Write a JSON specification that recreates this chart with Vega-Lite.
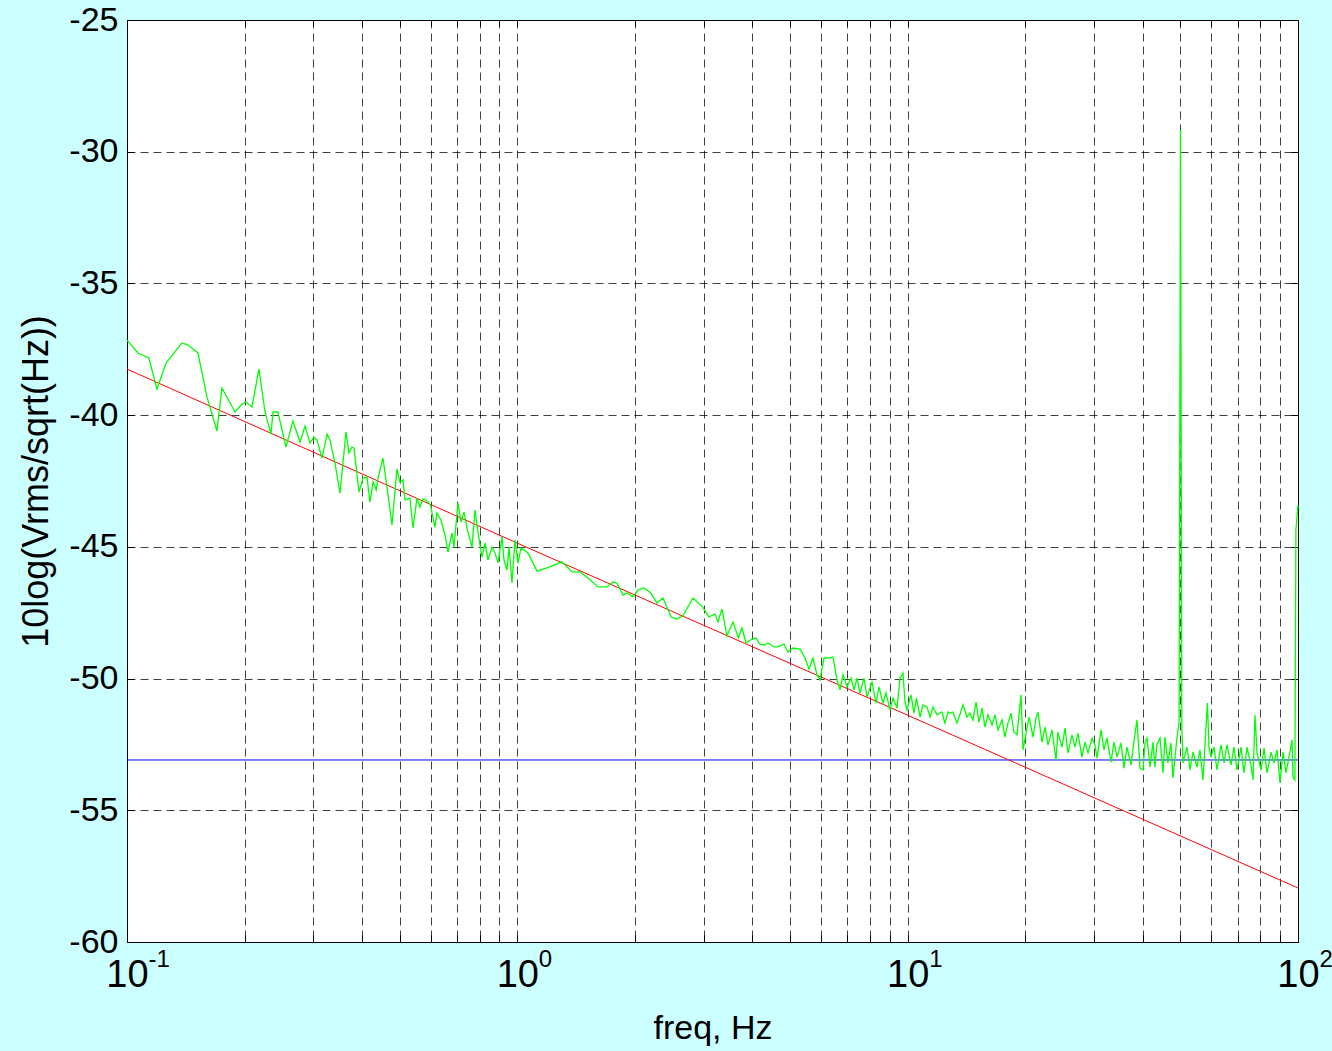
{
  "$schema": "https://vega.github.io/schema/vega-lite/v6.json",
  "width": 1171,
  "height": 922,
  "autosize": {"type": "none"},
  "padding": {"left": 127, "top": 20, "right": 34, "bottom": 109},
  "background": "#ccffff",
  "config": {
    "view": {"fill": "white", "stroke": "black", "strokeWidth": 1},
    "font": "Liberation Sans",
    "axis": {"labelFont": "Liberation Sans", "titleFont": "Liberation Sans", "labelColor": "#000", "titleColor": "#000", "tickColor": "#000", "titleFontWeight": "normal", "labelFlush": false, "labelOverlap": false}
  },
  "datasets": {
    "green": [
      {"f":0.1,"db":-37.15},{"f":0.1067,"db":-37.64},{"f":0.1138,"db":-37.83},{"f":0.1193,"db":-39.01},{"f":0.1259,"db":-38.02},{"f":0.1383,"db":-37.26},{"f":0.1433,"db":-37.34},{"f":0.152,"db":-37.64},{"f":0.1603,"db":-39.31},{"f":0.17,"db":-40.6},{"f":0.1751,"db":-38.97},{"f":0.1891,"db":-39.88},{"f":0.1971,"db":-39.58},{"f":0.2018,"db":-39.5},{"f":0.209,"db":-39.69},{"f":0.2178,"db":-38.25},{"f":0.2257,"db":-39.88},{"f":0.2338,"db":-40.72},{"f":0.2366,"db":-39.88},{"f":0.2436,"db":-39.88},{"f":0.2554,"db":-41.21},{"f":0.2662,"db":-40.22},{"f":0.2775,"db":-41.02},{"f":0.2858,"db":-40.41},{"f":0.2943,"db":-41.06},{"f":0.3012,"db":-40.83},{"f":0.3067,"db":-40.94},{"f":0.3159,"db":-41.63},{"f":0.3254,"db":-40.72},{"f":0.3311,"db":-40.94},{"f":0.3411,"db":-41.82},{"f":0.3513,"db":-42.96},{"f":0.364,"db":-40.64},{"f":0.3704,"db":-41.44},{"f":0.3771,"db":-41.21},{"f":0.3816,"db":-41.25},{"f":0.393,"db":-42.92},{"f":0.4024,"db":-42.39},{"f":0.4119,"db":-42.35},{"f":0.4193,"db":-43.3},{"f":0.4268,"db":-42.54},{"f":0.435,"db":-42.84},{"f":0.4396,"db":-42.39},{"f":0.4527,"db":-41.63},{"f":0.4635,"db":-42.73},{"f":0.4773,"db":-44.17},{"f":0.4917,"db":-42.04},{"f":0.5004,"db":-42.54},{"f":0.5094,"db":-42.46},{"f":0.5155,"db":-43.22},{"f":0.5309,"db":-43.15},{"f":0.5404,"db":-44.28},{"f":0.5533,"db":-43.15},{"f":0.5632,"db":-43.49},{"f":0.5731,"db":-43.18},{"f":0.5834,"db":-43.22},{"f":0.5992,"db":-43.41},{"f":0.6146,"db":-44.25},{"f":0.6226,"db":-43.71},{"f":0.6374,"db":-43.98},{"f":0.6526,"db":-44.55},{"f":0.6643,"db":-45.2},{"f":0.6802,"db":-44.47},{"f":0.6882,"db":-45.01},{"f":0.7046,"db":-43.33},{"f":0.7172,"db":-44.06},{"f":0.7301,"db":-43.68},{"f":0.7431,"db":-44.28},{"f":0.7653,"db":-45.01},{"f":0.779,"db":-43.6},{"f":0.7928,"db":-44.44},{"f":0.8117,"db":-45.39},{"f":0.8263,"db":-44.85},{"f":0.841,"db":-45.5},{"f":0.8612,"db":-45.01},{"f":0.8766,"db":-45.23},{"f":0.8922,"db":-45.61},{"f":0.9135,"db":-44.63},{"f":0.9243,"db":-45.5},{"f":0.9409,"db":-45.88},{"f":0.9519,"db":-45.01},{"f":0.969,"db":-46.37},{"f":0.9863,"db":-44.74},{"f":1.004,"db":-45.61},{"f":1.022,"db":-45.04},{"f":1.065,"db":-45.23},{"f":1.123,"db":-45.92},{"f":1.191,"db":-45.8},{"f":1.301,"db":-45.57},{"f":1.381,"db":-45.95},{"f":1.447,"db":-45.95},{"f":1.517,"db":-46.18},{"f":1.609,"db":-46.52},{"f":1.697,"db":-46.52},{"f":1.757,"db":-46.33},{"f":1.801,"db":-46.37},{"f":1.865,"db":-46.83},{"f":1.91,"db":-46.75},{"f":1.978,"db":-46.9},{"f":2.037,"db":-46.64},{"f":2.111,"db":-46.56},{"f":2.187,"db":-46.71},{"f":2.279,"db":-47.13},{"f":2.361,"db":-46.94},{"f":2.476,"db":-47.66},{"f":2.564,"db":-47.74},{"f":2.657,"db":-47.62},{"f":2.818,"db":-46.94},{"f":2.972,"db":-47.25},{"f":3.098,"db":-47.66},{"f":3.209,"db":-47.55},{"f":3.266,"db":-47.85},{"f":3.344,"db":-47.36},{"f":3.443,"db":-48.38},{"f":3.569,"db":-47.85},{"f":3.685,"db":-48.46},{"f":3.762,"db":-48.08},{"f":3.853,"db":-48.65},{"f":3.992,"db":-48.5},{"f":4.085,"db":-48.46},{"f":4.185,"db":-48.69},{"f":4.311,"db":-48.73},{"f":4.387,"db":-48.65},{"f":4.545,"db":-48.8},{"f":4.653,"db":-48.8},{"f":4.821,"db":-48.69},{"f":4.935,"db":-48.99},{"f":5.084,"db":-48.84},{"f":5.299,"db":-48.88},{"f":5.457,"db":-49.22},{"f":5.587,"db":-49.64},{"f":5.72,"db":-49.22},{"f":5.857,"db":-49.86},{"f":5.962,"db":-50.05},{"f":6.104,"db":-49.22},{"f":6.25,"db":-49.22},{"f":6.436,"db":-49.18},{"f":6.59,"db":-50.05},{"f":6.708,"db":-50.43},{"f":6.829,"db":-49.86},{"f":6.992,"db":-50.32},{"f":7.159,"db":-49.98},{"f":7.287,"db":-50.43},{"f":7.417,"db":-49.98},{"f":7.548,"db":-50.55},{"f":7.728,"db":-49.98},{"f":7.867,"db":-50.7},{"f":8.102,"db":-50.13},{"f":8.295,"db":-50.93},{"f":8.444,"db":-50.32},{"f":8.645,"db":-50.93},{"f":8.8,"db":-50.55},{"f":9.01,"db":-51.19},{"f":9.173,"db":-50.74},{"f":9.391,"db":-51.12},{"f":9.559,"db":-49.98},{"f":9.728,"db":-49.79},{"f":9.844,"db":-50.89},{"f":9.962,"db":-51.19},{"f":10.2,"db":-50.62},{"f":10.38,"db":-51.31},{"f":10.53,"db":-50.74},{"f":10.76,"db":-51.46},{"f":10.94,"db":-51.0},{"f":11.21,"db":-51.08},{"f":11.41,"db":-51.46},{"f":11.61,"db":-51.08},{"f":11.89,"db":-51.38},{"f":12.24,"db":-51.27},{"f":12.46,"db":-51.69},{"f":12.69,"db":-51.27},{"f":12.84,"db":-51.31},{"f":13.06,"db":-51.27},{"f":13.38,"db":-51.69},{"f":13.6,"db":-51.38},{"f":13.86,"db":-51.0},{"f":14.19,"db":-51.46},{"f":14.44,"db":-51.31},{"f":14.7,"db":-51.57},{"f":14.97,"db":-50.89},{"f":15.23,"db":-51.65},{"f":15.51,"db":-51.12},{"f":15.78,"db":-51.84},{"f":16.06,"db":-51.38},{"f":16.45,"db":-51.76},{"f":16.74,"db":-51.38},{"f":17.04,"db":-51.95},{"f":17.45,"db":-51.57},{"f":17.75,"db":-52.22},{"f":18.07,"db":-51.69},{"f":18.4,"db":-51.31},{"f":18.72,"db":-52.03},{"f":19.06,"db":-52.14},{"f":19.52,"db":-50.62},{"f":19.75,"db":-52.71},{"f":20.1,"db":-52.07},{"f":20.47,"db":-51.46},{"f":20.95,"db":-52.22},{"f":21.32,"db":-51.5},{"f":21.57,"db":-51.27},{"f":22.1,"db":-52.41},{"f":22.49,"db":-51.84},{"f":22.88,"db":-52.52},{"f":23.43,"db":-51.95},{"f":23.99,"db":-53.09},{"f":24.27,"db":-52.03},{"f":24.85,"db":-52.6},{"f":25.3,"db":-51.88},{"f":25.75,"db":-52.82},{"f":26.37,"db":-52.14},{"f":26.83,"db":-52.6},{"f":27.31,"db":-52.07},{"f":27.96,"db":-52.98},{"f":28.47,"db":-52.41},{"f":28.98,"db":-52.82},{"f":29.67,"db":-52.26},{"f":30.19,"db":-52.52},{"f":30.56,"db":-53.02},{"f":31.29,"db":-51.95},{"f":31.85,"db":-52.71},{"f":32.41,"db":-52.26},{"f":33.19,"db":-53.17},{"f":33.77,"db":-52.41},{"f":34.38,"db":-52.98},{"f":35.2,"db":-52.44},{"f":35.83,"db":-53.4},{"f":36.47,"db":-52.6},{"f":37.34,"db":-53.28},{"f":38.04,"db":-52.33},{"f":38.68,"db":-51.57},{"f":39.38,"db":-53.4},{"f":40.08,"db":-53.47},{"f":40.55,"db":-52.44},{"f":41.04,"db":-52.26},{"f":41.77,"db":-53.36},{"f":42.51,"db":-52.41},{"f":42.99,"db":-53.36},{"f":43.49,"db":-52.52},{"f":44.31,"db":-52.26},{"f":45.1,"db":-53.58},{"f":45.63,"db":-52.22},{"f":46.41,"db":-53.2},{"f":47.28,"db":-52.44},{"f":47.83,"db":-53.77},{"f":48.99,"db":-52.22},{"f":49.6,"db":-51.6},{"f":50.0,"db":-29.18},{"f":50.4,"db":-51.9},{"f":50.75,"db":-53.2},{"f":51.96,"db":-52.6},{"f":52.89,"db":-53.47},{"f":53.83,"db":-52.79},{"f":55.12,"db":-53.36},{"f":56.09,"db":-52.71},{"f":57.1,"db":-53.85},{"f":58.6,"db":-50.93},{"f":59.16,"db":-52.6},{"f":59.86,"db":-52.98},{"f":60.93,"db":-52.6},{"f":62.02,"db":-53.47},{"f":63.5,"db":-52.52},{"f":64.64,"db":-53.2},{"f":65.78,"db":-52.52},{"f":67.35,"db":-53.28},{"f":68.56,"db":-52.6},{"f":69.79,"db":-53.47},{"f":71.45,"db":-52.6},{"f":72.73,"db":-53.58},{"f":74.01,"db":-52.6},{"f":75.78,"db":-53.28},{"f":76.7,"db":-53.85},{"f":77.59,"db":-51.38},{"f":78.52,"db":-52.79},{"f":80.4,"db":-53.47},{"f":81.84,"db":-52.64},{"f":83.3,"db":-53.58},{"f":85.3,"db":-52.79},{"f":86.8,"db":-53.2},{"f":88.36,"db":-52.71},{"f":89.94,"db":-53.96},{"f":91.55,"db":-52.79},{"f":93.16,"db":-53.58},{"f":94.83,"db":-52.98},{"f":96.53,"db":-52.33},{"f":97.1,"db":-53.74},{"f":98.19,"db":-53.85},{"f":98.77,"db":-44.36},{"f":100,"db":-43.41}
    ],
    "red": [
      {"f":0.1,"db":-38.25},{"f":1,"db":-44.86},{"f":10,"db":-51.39},{"f":100,"db":-57.95}
    ],
    "blue": [
      {"f":0.1,"db":-53.09},{"f":100,"db":-53.09}
    ]
  },
  "resolve": {"axis": {"x": "independent", "y": "independent"}},
  "layer": [
    {
      "data": {"name": "blue"},
      "mark": {"type": "line", "color": "#0000ff", "strokeWidth": 1},
      "encoding": {
        "x": {"field": "f", "type": "quantitative", "scale": {"type": "log", "domain": [0.1, 100], "nice": false},
          "axis": {"orient": "top", "values": [0.1,0.2,0.3,0.4,0.5,0.6,0.7,0.8,0.9,1,2,3,4,5,6,7,8,9,10,20,30,40,50,60,70,80,90,100], "grid": false, "domain": false, "labels": false, "ticks": true, "tickSize": -6, "title": null}},
        "y": {"field": "db", "type": "quantitative", "scale": {"domain": [-60, -25], "nice": false, "zero": false}, "axis": null}
      }
    },
    {
      "data": {"name": "red"},
      "mark": {"type": "line", "color": "#ff0000", "strokeWidth": 1},
      "encoding": {
        "x": {"field": "f", "type": "quantitative", "scale": {"type": "log", "domain": [0.1, 100], "nice": false},
          "axis": {"orient": "bottom", "values": [0.1, 1, 10, 100], "labelExpr": "datum.value == 0.1 ? '-1' : datum.value == 1 ? '0' : datum.value == 10 ? '1' : datum.value == 100 ? '2' : ''", "grid": false, "ticks": false, "domain": false, "labelFontSize": 24, "labelAlign": "left", "labelOffset": 21, "labelPadding": 5, "labelBaseline": "top", "title": null}},
        "y": {"field": "db", "type": "quantitative", "scale": {"domain": [-60, -25], "nice": false, "zero": false},
          "axis": {"orient": "right", "values": [-60,-55,-50,-45,-40,-35,-30,-25], "grid": false, "domain": false, "labels": false, "ticks": true, "tickSize": -7, "title": null}}
      }
    },
    {
      "data": {"name": "green"},
      "mark": {"type": "line", "color": "#00ff00", "strokeWidth": 1.3},
      "encoding": {
        "x": {"field": "f", "type": "quantitative", "scale": {"type": "log", "domain": [0.1, 100], "nice": false},
          "axis": {"orient": "bottom", "values": [0.1,0.2,0.3,0.4,0.5,0.6,0.7,0.8,0.9,1,2,3,4,5,6,7,8,9,10,20,30,40,50,60,70,80,90,100], "labelExpr": "(datum.value == 0.1 || datum.value == 1 || datum.value == 10 || datum.value == 100) ? '10' : ''", "grid": true, "gridDash": [8, 5], "gridColor": "#000", "gridOpacity": 0.75, "gridWidth": 1, "domain": false, "ticks": true, "tickSize": -7, "labelFontSize": 38, "labelPadding": 21, "labelBaseline": "top", "title": "freq, Hz", "titleFontSize": 34, "titlePadding": 17}},
        "y": {"field": "db", "type": "quantitative", "scale": {"domain": [-60, -25], "nice": false, "zero": false},
          "axis": {"orient": "left", "values": [-60,-55,-50,-45,-40,-35,-30,-25], "labelExpr": "'' + datum.value", "grid": true, "gridDash": [8, 5], "gridColor": "#000", "gridOpacity": 0.75, "gridWidth": 1, "domain": false, "ticks": true, "tickSize": -7, "labelFontSize": 34, "labelPadding": 16, "title": "10log(Vrms/sqrt(Hz))", "titleFontSize": 36, "titlePadding": 13}}
      }
    }
  ]
}
